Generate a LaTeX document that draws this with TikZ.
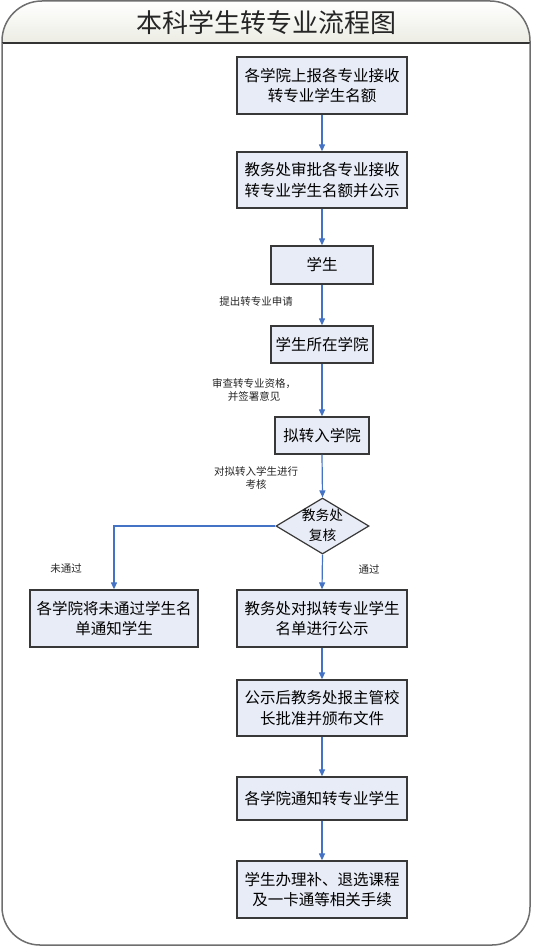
\documentclass[tikz,border=0pt]{standalone}
\usepackage{fontspec}
\newfontfamily\cjk{Noto Sans CJK SC}
\usetikzlibrary{shapes.geometric,arrows.meta}
\definecolor{boxfill}{RGB}{232,236,246}
\definecolor{arrowblue}{RGB}{68,114,196}
\definecolor{framec}{RGB}{110,110,110}
\definecolor{bandbot}{RGB}{236,236,228}
\tikzset{
  stepbox/.style={draw=black!78, fill=boxfill, line width=1.3pt, inner sep=0pt,
    align=center, font=\cjk\fontsize{15.5}{20.5}\selectfont, minimum width=170pt},
  lbl/.style={inner sep=0pt, align=center, font=\cjk\fontsize{10.5}{13}\selectfont, text=black!85},
  conn/.style={draw=arrowblue, line width=1.2pt, -{Triangle[width=6pt,length=7pt]}},
}
\begin{document}
\begin{tikzpicture}[x=1pt,y=-1pt]
\useasboundingbox (0,0) rectangle (533,947);
% title band
\shade[top color=white, bottom color=bandbot]
  (2,43) -- (2,41) arc[start angle=180, end angle=270, radius=40] -- (490,1)
  arc[start angle=270, end angle=360, radius=40] -- (530,43) -- cycle;
\draw[framec, line width=1.5pt]
  (2,43) -- (2,41) arc[start angle=180, end angle=270, radius=40] -- (490,1)
  arc[start angle=270, end angle=360, radius=40] -- (530,43);
\draw[black!80, line width=1.3pt] (2,43) -- (530,43);
% body frame
\draw[framec, line width=1.5pt]
  (2,43) -- (2,907) arc[start angle=180, end angle=90, radius=38] -- (492,945)
  arc[start angle=90, end angle=0, radius=38] -- (530,43);
\node[inner sep=0pt, font=\cjk\fontsize{26}{30}\selectfont, text=black!85] (title) at (266,23) {本科学生转专业流程图};

% boxes
\node[stepbox, minimum height=57pt] (b1) at (322,85.5) {各学院上报各专业接收\\转专业学生名额};
\node[stepbox, minimum height=56pt] (b2) at (322,180) {教务处审批各专业接收\\转专业学生名额并公示};
\node[stepbox, minimum width=102pt, minimum height=38pt] (b3) at (322,265) {学生};
\node[stepbox, minimum width=102pt, minimum height=37pt] (b4) at (322,344.5) {学生所在学院};
\node[stepbox, minimum width=94pt, minimum height=37pt] (b5) at (322,435.5) {拟转入学院};
\node[diamond, draw=black!78, fill=boxfill, line width=1.2pt, inner sep=0pt,
      minimum width=93pt, minimum height=56pt] (d) at (322.5,526) {};
\node[inner sep=0pt, align=center, font=\cjk\fontsize{13.7}{20}\selectfont] (dt) at (322.5,525) {教务处\\复核};
\node[stepbox, minimum width=168pt, minimum height=57pt] (b6) at (114,618.5) {各学院将未通过学生名\\单通知学生};
\node[stepbox, minimum height=57pt] (b7) at (322,618.5) {教务处对拟转专业学生\\名单进行公示};
\node[stepbox, minimum height=56pt] (b8) at (322,708) {公示后教务处报主管校\\长批准并颁布文件};
\node[stepbox, minimum height=43pt] (b9) at (322,798.5) {各学院通知转专业学生};
\node[stepbox, minimum height=57pt] (b10) at (322,889.5) {学生办理补、退选课程\\及一卡通等相关手续};

% labels
\node[lbl] (l1) at (256,302) {提出转专业申请};
\node[lbl] (l2) at (254,390.5) {审查转专业资格，\\并签署意见};
\node[lbl] (l3) at (256,477.5) {对拟转入学生进行\\考核};
\node[lbl] (l4) at (66,569) {未通过};
\node[lbl] (l5) at (369,569) {通过};

% connectors
\draw[conn] (b1) -- (b2);
\draw[conn] (b2) -- (b3);
\draw[conn] (b3) -- (b4);
\draw[conn] (b4) -- (b5);
\draw[conn] (b5.south) -- (d.north);
\draw[conn] (d.south) -- (b7.north);
\draw[conn] (d.west) -| (b6.north);
\draw[conn] (b7) -- (b8);
\draw[conn] (b8) -- (b9);
\draw[conn] (b9) -- (b10);
\end{tikzpicture}
\end{document}
